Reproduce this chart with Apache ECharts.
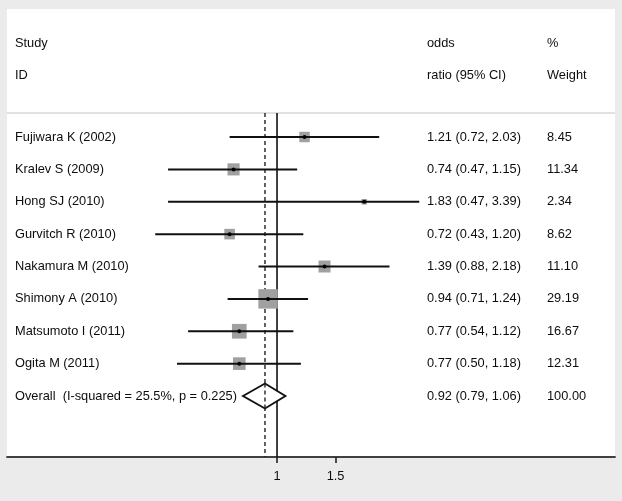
<!DOCTYPE html>
<html>
<head>
<meta charset="utf-8">
<script src="https://cdn.jsdelivr.net/npm/echarts@6/dist/echarts.min.js"></script>
<style>html,body{margin:0;padding:0;background:#ebebeb;}#c{width:622px;height:501px;}</style>
</head>
<body>
<div id="c"></div>
<script>
// ---- data ----
const studies = ['Fujiwara K (2002)','Kralev S (2009)','Hong SJ (2010)','Gurvitch R (2010)','Nakamura M (2010)','Shimony A (2010)','Matsumoto I (2011)','Ogita M (2011)'];
const oddsRatio = [1.21,0.74,1.83,0.72,1.39,0.94,0.77,0.77];
const ciLower = [0.72,0.47,0.47,0.43,0.88,0.71,0.54,0.50];
const ciUpper = [2.03,1.15,3.39,1.20,2.18,1.24,1.12,1.18];
const weights = [8.45,11.34,2.34,8.62,11.10,29.19,16.67,12.31];
const overallLabel = 'Overall  (I-squared = 25.5%, p = 0.225)';
const overallOR = 0.92;
const overallLower = 0.79;
const overallUpper = 1.06;
const overallWeight = 100.00;
const tickValues = [1, 1.5];
const headerLeft = ['Study','ID'];
const headerMid = ['odds','ratio (95% CI)'];
const headerRight = ['%','Weight'];

// ---- display settings ----
const FONT_FAMILY = "'Liberation Sans', Arial, sans-serif";
const FONT = "12.8px " + FONT_FAMILY;
const TXT = '#0d0d0d';
const ciClip = [0.37, 2.68];
const xMinLn = -1.871, xMaxLn = 2.342;
const yMin = -3.954, yMax = 9.884;
const headerRows = [-2.9, -1.915];
const headerLineRow = -0.741;
const colName = 15, colOR = 427, colW = 547;

const chart = echarts.init(document.getElementById('c'), null, {renderer:'canvas'});

const studyData = studies.map((s,i)=>[i, i]);

function txt(x, y, t){
  return {type:'text', style:{x:x, y:y, text:t, fill:TXT, font:FONT, align:'left', verticalAlign:'middle'}};
}

const option = {
  backgroundColor:'#ebebeb',
  animation:false,
  grid:{left:7, right:7, top:9, bottom:44, show:true, backgroundColor:'#ffffff', borderWidth:0},
  xAxis:{
    type:'value', min:xMinLn, max:xMaxLn, position:'bottom',
    splitLine:{show:false},
    axisLine:{show:true, onZero:false, lineStyle:{color:'#404040', width:1.8}},
    axisTick:{show:true, length:6, lineStyle:{color:'#222', width:1.6}, customValues: tickValues.map(v=>Math.log(v))},
    axisLabel:{show:true, color:TXT, fontSize:12.8, fontFamily:FONT_FAMILY, margin:13,
      customValues: tickValues.map(v=>Math.log(v)),
      formatter: v => { const r = Math.round(Math.exp(v)*100)/100; return String(r); }}
  },
  yAxis:{type:'value', min:yMin, max:yMax, inverse:true, show:false},
  series:[
    {
      type:'custom', silent:true, clip:false,
      data:[[0,0]],
      renderItem:function(params, api){
        const top = api.coord([0, headerLineRow])[1];
        const bottom = api.coord([0, yMax])[1];
        const xl = api.coord([xMinLn, 0])[0], xr = api.coord([xMaxLn, 0])[0];
        const x1 = api.coord([Math.log(1), 0])[0];
        const xo = api.coord([Math.log(overallOR), 0])[0];
        const children = [
          {type:'line', shape:{x1:xl, y1:top, x2:xr, y2:top}, style:{stroke:'#c4c4c4', lineWidth:1}},
          {type:'line', shape:{x1:xo, y1:top, x2:xo, y2:bottom}, style:{stroke:'#222', lineWidth:1.4, lineDash:[4,3]}},
          {type:'line', shape:{x1:x1, y1:top, x2:x1, y2:bottom}, style:{stroke:'#111', lineWidth:1.6}}
        ];
        headerRows.forEach((r,k)=>{
          const y = api.coord([0, r])[1];
          children.push(txt(colName, y, headerLeft[k]));
          children.push(txt(colOR, y, headerMid[k]));
          children.push(txt(colW, y, headerRight[k]));
        });
        return {type:'group', children:children};
      },
      z:1
    },
    {
      type:'custom', silent:true, clip:false,
      data: studyData,
      renderItem:function(params, api){
        const i = api.value(0);
        const yPix = api.coord([0, i])[1];
        const lo = Math.max(ciLower[i], ciClip[0]);
        const hi = Math.min(ciUpper[i], ciClip[1]);
        const xLo = api.coord([Math.log(lo), i])[0];
        const xHi = api.coord([Math.log(hi), i])[0];
        const xP = api.coord([Math.log(oddsRatio[i]), i])[0];
        const side = 3.6*Math.sqrt(weights[i]);
        return {type:'group', children:[
          {type:'rect', shape:{x:xP-side/2, y:yPix-side/2, width:side, height:side}, style:{fill:'#a0a0a0'}},
          {type:'line', shape:{x1:xLo, y1:yPix, x2:xHi, y2:yPix}, style:{stroke:'#111', lineWidth:2}},
          {type:'circle', shape:{cx:xP, cy:yPix, r:2}, style:{fill:'#000'}},
          txt(colName, yPix, studies[i]),
          txt(colOR, yPix, oddsRatio[i].toFixed(2)+' ('+ciLower[i].toFixed(2)+', '+ciUpper[i].toFixed(2)+')'),
          txt(colW, yPix, weights[i].toFixed(2))
        ]};
      },
      z:2
    },
    {
      type:'custom', silent:true, clip:false,
      data:[[studies.length, 0]],
      renderItem:function(params, api){
        const r = api.value(0);
        const y = api.coord([0, r])[1];
        const xl = api.coord([Math.log(overallLower), r])[0];
        const xr = api.coord([Math.log(overallUpper), r])[0];
        const xc = api.coord([Math.log(overallOR), r])[0];
        const h = 12.5;
        return {type:'group', children:[
          {type:'polygon', shape:{points:[[xl,y],[xc,y-h],[xr,y],[xc,y+h]]}, style:{fill:'#fff', stroke:'#111', lineWidth:1.9}},
          {type:'line', shape:{x1:xc, y1:y-h, x2:xc, y2:y+h}, style:{stroke:'#222', lineWidth:1.4, lineDash:[4,3]}},
          txt(colName, y, overallLabel),
          txt(colOR, y, overallOR.toFixed(2)+' ('+overallLower.toFixed(2)+', '+overallUpper.toFixed(2)+')'),
          txt(colW, y, overallWeight.toFixed(2))
        ]};
      },
      z:3
    }
  ]
};
chart.setOption(option);
</script>
</body>
</html>
